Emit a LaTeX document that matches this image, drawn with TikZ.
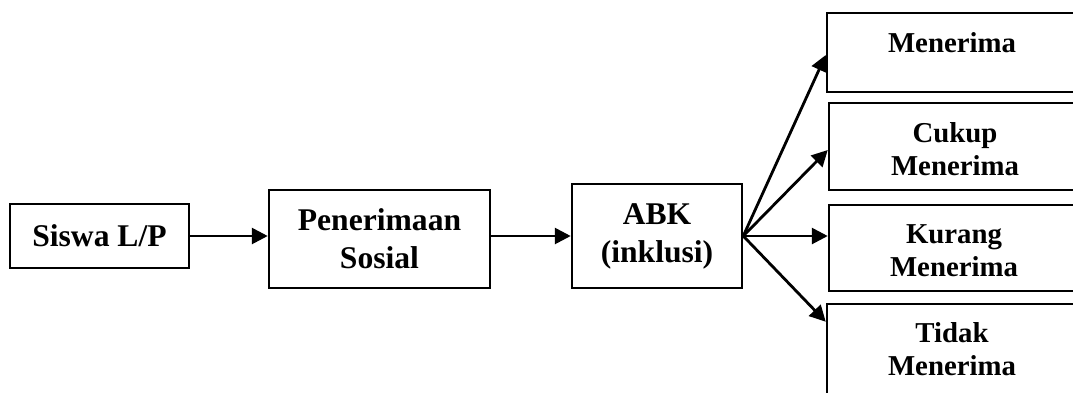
\documentclass[tikz,border=0pt]{standalone}
\usepackage{fontspec}
\setmainfont{Liberation Serif}
\usetikzlibrary{arrows.meta}
\begin{document}
\begin{tikzpicture}[x=1pt,y=-1pt,
  box/.style={draw,line width=2.5pt,rectangle,inner sep=0pt},
  big/.style={font=\bfseries\fontsize{31.6}{38}\selectfont,align=center},
  small/.style={font=\bfseries\fontsize{28.8}{33}\selectfont,align=center,inner sep=0pt},
  arr/.style={line width=2.8pt,-{Triangle[length=16pt,width=16pt]}}]
\useasboundingbox (0,0) rectangle (1073,392);
\clip (0,0) rectangle (1073,392);
% left chain
\node[box,big,minimum width=179pt,minimum height=64pt] (sis) at (99.5,236) {Siswa L/P};
\node[box,big,minimum width=221pt,minimum height=98pt] (pen) at (379.5,239) {Penerimaan\\Sosial};
\node[box,big,minimum width=170pt,minimum height=104pt] (abk) at (657,236) {ABK\\(inklusi)};
% right boxes (cut off at the right edge)
\node[box,minimum width=260pt,minimum height=79pt] (men) at (957,52.5) {};
\node[box,minimum width=258pt,minimum height=87pt] (cuk) at (958,146.5) {};
\node[box,minimum width=258pt,minimum height=86pt] (kur) at (958,248) {};
\node[box,minimum width=260pt,minimum height=110pt] (tid) at (957,359) {};
% texts of right boxes
\node[small] (tmen) at (952,42.5) {Menerima};
\node[small] (tcuk) at (955,149.5) {Cukup\\Menerima};
\node[small] (tkur) at (954,251) {Kurang\\Menerima};
\node[small] (ttid) at (952,349) {Tidak\\Menerima};
% connectors
\draw[arr] (sis.east) -- (sis.east -| pen.west);
\draw[arr] (pen.east |- sis.east) -- (sis.east -| abk.west);
\draw[arr] (abk.east) -- ([yshift=-2.5pt]men.west);
\draw[arr] (abk.east) -- ([yshift=-3.5pt]cuk.west);
\draw[arr] (abk.east) -- (abk.east -| kur.west);
\draw[arr] (abk.east) -- ([yshift=-19pt]tid.north west);
\end{tikzpicture}
\end{document}
